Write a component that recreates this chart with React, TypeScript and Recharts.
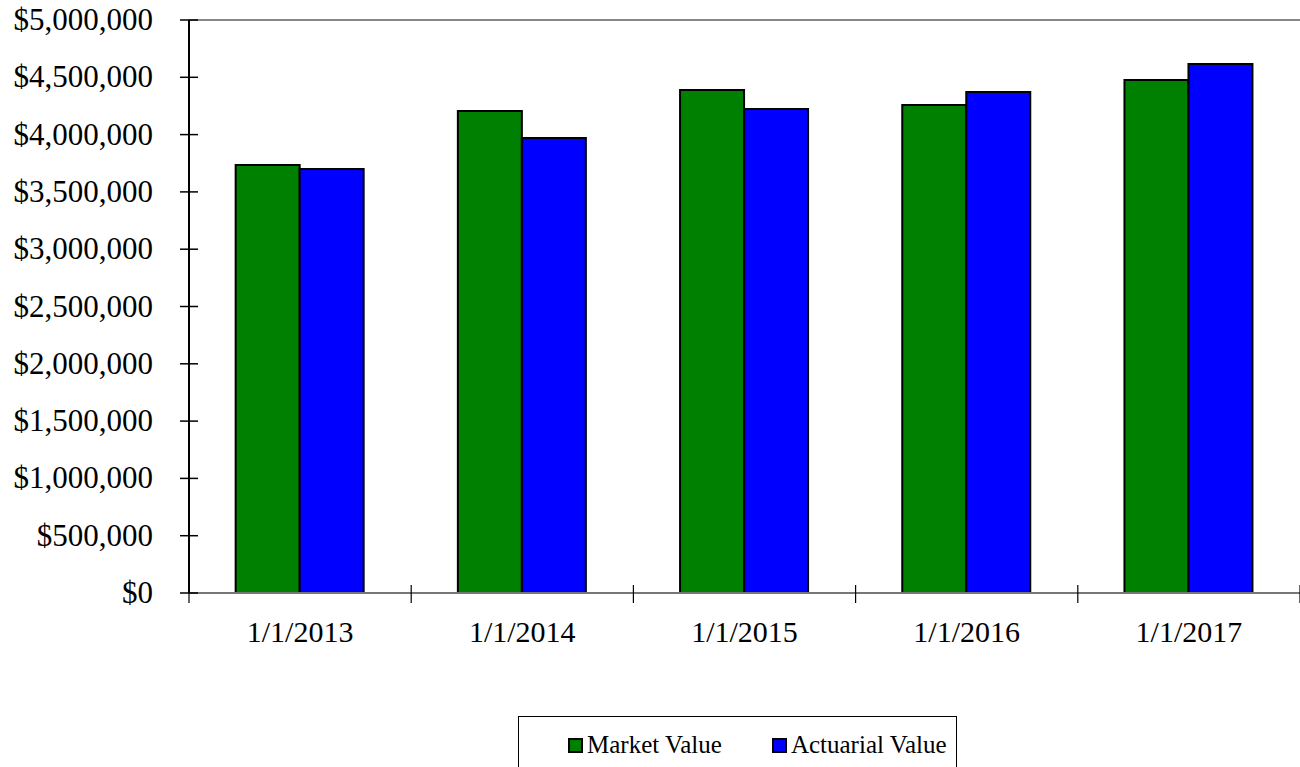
import { BarChart, Bar, XAxis, YAxis, ReferenceLine, Legend } from 'recharts'

const dates = ['1/1/2013', '1/1/2014', '1/1/2015', '1/1/2016', '1/1/2017']
const marketValue = [3735000, 4206000, 4389000, 4258000, 4476000]
const actuarialValue = [3700000, 3970000, 4223000, 4372000, 4616000]
const yTicks = [0, 500000, 1000000, 1500000, 2000000, 2500000, 3000000, 3500000, 4000000, 4500000, 5000000]

const chartData = dates.map((d, i) => ({
  name: d,
  'Market Value': marketValue[i],
  'Actuarial Value': actuarialValue[i],
}))

const FONT = '"Liberation Serif", "Times New Roman", serif'
const PLOT_LEFT = 189
const PLOT_RIGHT = 1300
const HALF_BAND = (PLOT_RIGHT - PLOT_LEFT) / dates.length / 2

const fmt = (v: number) => '$' + v.toLocaleString('en-US')

function YTick(props: any) {
  const { x, y, payload } = props
  return (
    <g>
      <line x1={x - 9} x2={x + 9} y1={y} y2={y} stroke="#000" strokeWidth={1.5} />
      <text x={x - 36} y={y} dy={10} textAnchor="end" style={{ fontSize: 31, fontFamily: FONT }} fill="#000">
        {fmt(payload.value)}
      </text>
    </g>
  )
}

function XTick(props: any) {
  const { x, y, payload, index } = props
  return (
    <g>
      <line x1={x - HALF_BAND} x2={x - HALF_BAND} y1={y - 10} y2={y + 8} stroke="#000" strokeWidth={1.2} />
      {index === dates.length - 1 && (
        <line x1={x + HALF_BAND} x2={x + HALF_BAND} y1={y - 10} y2={y + 8} stroke="#000" strokeWidth={1.2} />
      )}
      <text x={x} y={y} dy={47} textAnchor="middle" style={{ fontSize: 30, fontFamily: FONT }} fill="#000">
        {payload.value}
      </text>
    </g>
  )
}

function LegendBox() {
  const items = [
    { label: 'Market Value', color: '#008000' },
    { label: 'Actuarial Value', color: '#0000FF' },
  ]
  return (
    <div
      style={{
        position: 'absolute',
        left: 518,
        top: 716,
        width: 439,
        height: 60,
        border: '1px solid #000',
        boxSizing: 'border-box',
        display: 'flex',
        justifyContent: 'flex-start',
        paddingLeft: 49,
        paddingTop: 15,
        gap: 50,
        fontFamily: FONT,
        fontSize: 25,
        color: '#000',
        background: '#fff',
      }}
    >
      {items.map((it) => (
        <div key={it.label} style={{ display: 'flex', alignItems: 'flex-start' }}>
          <span
            style={{
              display: 'inline-block',
              width: 11,
              height: 11,
              background: it.color,
              border: '2px solid #000',
              marginTop: 6,
              marginRight: 4,
            }}
          />
          <span style={{ lineHeight: '26px' }}>{it.label}</span>
        </div>
      ))}
    </div>
  )
}

export default function App() {
  return (
    <div style={{ position: 'absolute', left: 0, top: 0, width: 1300, height: 767, overflow: 'hidden', background: '#fff' }}>
      <BarChart
        width={1300}
        height={767}
        data={chartData}
        margin={{ top: 20, right: 0, left: 0, bottom: 114 }}
        barCategoryGap="21%"
        barGap={0}
      >
        <XAxis
          dataKey="name"
          axisLine={{ stroke: '#777', strokeWidth: 2 }}
          tickLine={false}
          tickSize={0}
          tick={<XTick />}
          height={60}
          interval={0}
        />
        <YAxis
          domain={[0, 5000000]}
          ticks={yTicks}
          width={PLOT_LEFT}
          axisLine={{ stroke: '#000', strokeWidth: 2 }}
          tickLine={false}
          tickSize={0}
          tickMargin={0}
          tick={<YTick />}
          interval={0}
        />
        <ReferenceLine y={5000000} stroke="#888" strokeWidth={2} />
        <Legend content={() => null} />
        <Bar dataKey="Market Value" fill="#008000" stroke="#000" strokeWidth={2} isAnimationActive={false} />
        <Bar dataKey="Actuarial Value" fill="#0000FF" stroke="#000" strokeWidth={2} isAnimationActive={false} />
      </BarChart>
      <LegendBox />
    </div>
  )
}
